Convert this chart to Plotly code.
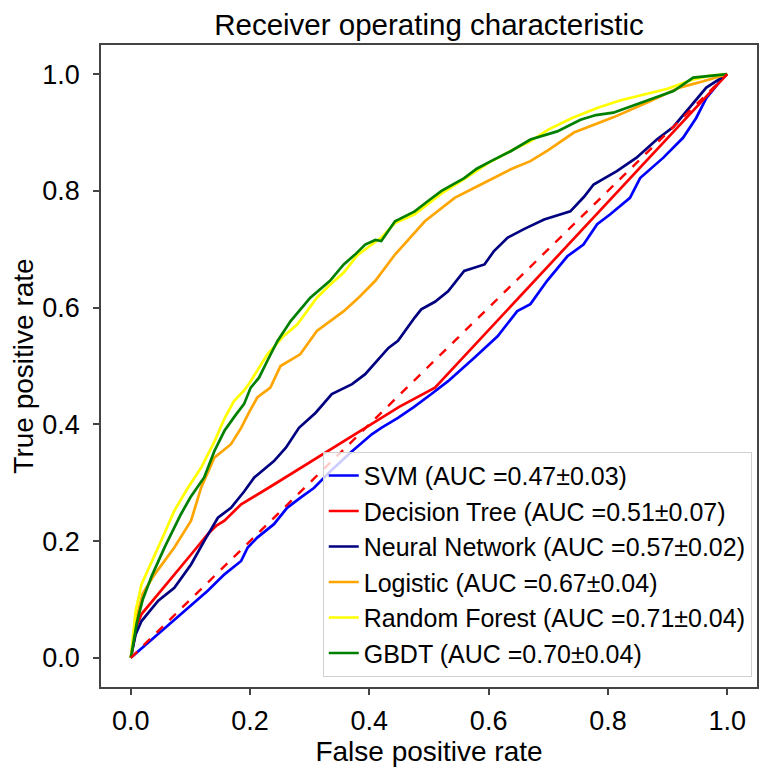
import plotly.graph_objects as go

# ---------------- data ----------------
svm_fpr = [0, 0.02, 0.046, 0.084, 0.129, 0.157, 0.185, 0.196, 0.212, 0.24, 0.262, 0.284, 0.307, 0.34, 0.371,
           0.404, 0.42, 0.448, 0.475, 0.504, 0.532, 0.576, 0.615, 0.648, 0.67, 0.698, 0.732, 0.759, 0.782, 0.804,
           0.837, 0.854, 0.893, 0.926, 0.948, 0.965, 0.993, 1.0]
svm_tpr = [0, 0.018, 0.04, 0.075, 0.115, 0.143, 0.166, 0.189, 0.206, 0.229, 0.257, 0.274, 0.291, 0.325, 0.354,
           0.383, 0.394, 0.411, 0.43, 0.452, 0.474, 0.514, 0.551, 0.594, 0.606, 0.646, 0.688, 0.708, 0.743, 0.76,
           0.788, 0.822, 0.857, 0.891, 0.925, 0.959, 0.994, 1.0]

dt_fpr = [0, 0.01, 0.018, 0.046, 0.073, 0.101, 0.129, 0.143, 0.157, 0.185, 0.24, 0.312, 0.4, 0.45, 0.51, 1.0]
dt_tpr = [0, 0.055, 0.075, 0.109, 0.143, 0.177, 0.212, 0.226, 0.235, 0.263, 0.297, 0.343, 0.398, 0.43, 0.463, 1.0]

nn_fpr = [0, 0.008, 0.018, 0.046, 0.073, 0.101, 0.123, 0.146, 0.168, 0.19, 0.207, 0.24, 0.26, 0.282, 0.31, 0.337,
          0.371, 0.393, 0.432, 0.448, 0.476, 0.487, 0.51, 0.532, 0.559, 0.593, 0.609, 0.632, 0.66, 0.693, 0.737,
          0.76, 0.776, 0.815, 0.848, 0.882, 0.91, 0.932, 0.965, 1.0]
nn_tpr = [0, 0.04, 0.063, 0.098, 0.12, 0.16, 0.2, 0.24, 0.257, 0.285, 0.309, 0.337, 0.36, 0.394, 0.42, 0.452,
          0.469, 0.486, 0.531, 0.543, 0.583, 0.597, 0.61, 0.628, 0.663, 0.674, 0.697, 0.72, 0.735, 0.751, 0.765,
          0.79, 0.811, 0.834, 0.857, 0.888, 0.91, 0.937, 0.977, 1.0]

lr_fpr = [0, 0.01, 0.02, 0.04, 0.073, 0.101, 0.118, 0.14, 0.168, 0.185, 0.198, 0.212, 0.234, 0.251, 0.284, 0.312,
          0.357, 0.38, 0.41, 0.443, 0.493, 0.543, 0.587, 0.637, 0.67, 0.7, 0.743, 0.78, 0.809, 0.865, 0.92, 0.96, 1.0]
lr_tpr = [0, 0.07, 0.11, 0.143, 0.189, 0.235, 0.292, 0.343, 0.366, 0.394, 0.42, 0.446, 0.463, 0.5, 0.52, 0.56,
          0.594, 0.615, 0.646, 0.691, 0.748, 0.788, 0.811, 0.837, 0.851, 0.87, 0.9, 0.915, 0.926, 0.951, 0.977,
          0.988, 1.0]

rf_fpr = [0, 0.008, 0.018, 0.035, 0.055, 0.073, 0.095, 0.118, 0.14, 0.157, 0.173, 0.19, 0.201, 0.229, 0.255,
          0.279, 0.312, 0.335, 0.357, 0.38, 0.4, 0.42, 0.443, 0.476, 0.52, 0.559, 0.6, 0.64, 0.67, 0.7, 0.74,
          0.782, 0.82, 0.86, 0.9, 0.94, 0.97, 1.0]
rf_tpr = [0, 0.08, 0.126, 0.166, 0.21, 0.252, 0.29, 0.326, 0.37, 0.41, 0.44, 0.458, 0.474, 0.52, 0.55, 0.571,
          0.617, 0.64, 0.66, 0.69, 0.705, 0.72, 0.745, 0.76, 0.795, 0.82, 0.848, 0.87, 0.885, 0.905, 0.925, 0.942,
          0.955, 0.965, 0.975, 0.99, 0.997, 1.0]

gb_fpr = [0, 0.01, 0.02, 0.035, 0.057, 0.084, 0.1, 0.123, 0.14, 0.157, 0.175, 0.19, 0.201, 0.215, 0.229, 0.246,
          0.268, 0.285, 0.301, 0.334, 0.357, 0.375, 0.393, 0.41, 0.42, 0.443, 0.476, 0.5, 0.521, 0.559, 0.58,
          0.604, 0.637, 0.67, 0.715, 0.754, 0.78, 0.809, 0.84, 0.865, 0.91, 0.943, 0.97, 1.0]
gb_tpr = [0, 0.06, 0.1, 0.14, 0.19, 0.246, 0.275, 0.309, 0.354, 0.389, 0.415, 0.435, 0.463, 0.48, 0.509, 0.543,
          0.577, 0.598, 0.617, 0.646, 0.674, 0.69, 0.708, 0.716, 0.714, 0.748, 0.765, 0.784, 0.8, 0.822, 0.838,
          0.851, 0.868, 0.888, 0.902, 0.922, 0.93, 0.934, 0.945, 0.954, 0.971, 0.994, 0.997, 1.0]

chance = [0, 1]

names = ["SVM (AUC =0.47±0.03)", "Decision Tree (AUC =0.51±0.07)", "Neural Network (AUC =0.57±0.02)",
         "Logistic (AUC =0.67±0.04)", "Random Forest (AUC =0.71±0.04)", "GBDT (AUC =0.70±0.04)"]
colors = ["#0000ff", "#ff0000", "#000080", "#ffa500", "#ffff00", "#008000"]
curves = [(svm_fpr, svm_tpr), (dt_fpr, dt_tpr), (nn_fpr, nn_tpr), (lr_fpr, lr_tpr), (rf_fpr, rf_tpr), (gb_fpr, gb_tpr)]

tick_vals = [0.0, 0.2, 0.4, 0.6, 0.8, 1.0]
tick_text = ["0.0", "0.2", "0.4", "0.6", "0.8", "1.0"]

FONT = "Liberation Sans, Arial, Helvetica, sans-serif"

fig = go.Figure()
for i, ((fx, ty), nm, col) in enumerate(zip(curves, names, colors)):
    fig.add_trace(go.Scatter(x=fx, y=ty, mode="lines", name=nm, legendgroup=f"g{i}",
                             line=dict(color=col, width=2.7)))
fig.add_trace(go.Scatter(x=chance, y=chance, mode="lines", showlegend=False,
                         line=dict(color="#ff0000", width=2.4, dash="dash")))

axis_common = dict(range=[-0.05, 1.05], showgrid=False, zeroline=False, showline=True, mirror=True,
                   linecolor="#444444", linewidth=1.5, ticks="outside", ticklen=6, tickwidth=1.5,
                   tickcolor="#444444", tickvals=tick_vals, ticktext=tick_text,
                   tickfont=dict(family=FONT, size=27, color="black"))

fig.update_layout(
    width=760, height=767,
    margin=dict(l=93, r=11, t=37, b=88, autoexpand=False),
    paper_bgcolor="white", plot_bgcolor="white",
    title=dict(text="Receiver operating characteristic", x=0.5, xanchor="center", xref="paper",
               y=1 - 17 / 767, yanchor="middle", yref="container",
               font=dict(family=FONT, size=29.5, color="black")),
    xaxis=dict(**axis_common, ticklabelstandoff=3,
               title=dict(text="False positive rate", standoff=6,
                          font=dict(family=FONT, size=28, color="black"))),
    yaxis=dict(**axis_common, ticklabelstandoff=8,
               title=dict(text="True positive rate", standoff=18,
                          font=dict(family=FONT, size=28, color="black"))),
    legend=dict(x=0.992, xanchor="right", y=0.016, yanchor="bottom",
                bgcolor="rgba(255,255,255,0.8)", bordercolor="#d0d0d0", borderwidth=1,
                font=dict(family=FONT, size=25, color="black"), tracegroupgap=3,
                traceorder="normal"),
    showlegend=True,
)

fig.write_html("out.html")
